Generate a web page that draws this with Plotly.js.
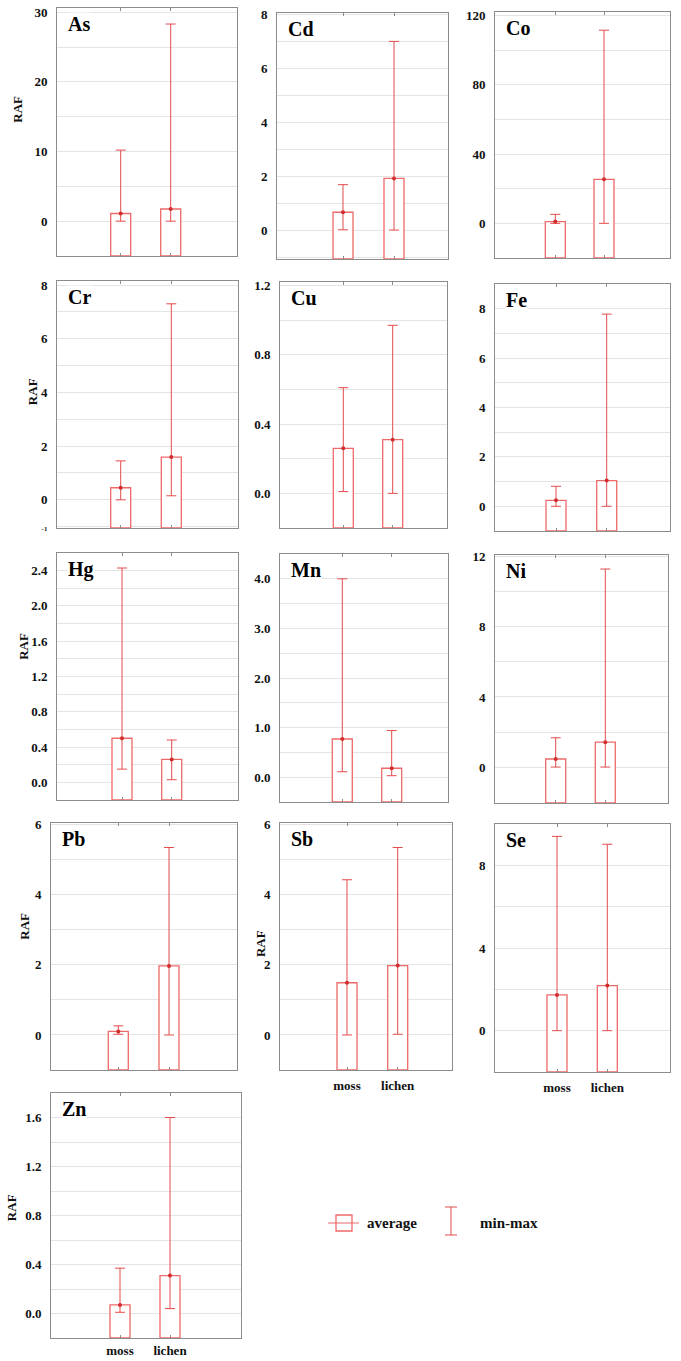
<!DOCTYPE html>
<html><head><meta charset="utf-8">
<script src="https://cdn.plot.ly/plotly-3.0.1.min.js"></script>
<style>body{margin:0;background:#fff}#chart{width:681px;height:1361px}</style>
</head><body><div id="chart"></div>
<script>
// ---------- data ----------
const elements   = ['As','Cd','Co','Cr','Cu','Fe','Hg','Mn','Ni','Pb','Sb','Se','Zn'];
const categories = ['moss','lichen'];
const avgMoss    = [1.10, 0.68, 1.0, 0.45, 0.26, 0.24, 0.50, 0.77, 0.46, 0.10, 1.49, 1.73, 0.07];
const minMoss    = [0.00, 0.03, 0.0, 0.00, 0.01, 0.00, 0.15, 0.11, 0.00, 0.02, 0.00, 0.00, 0.01];
const maxMoss    = [10.2, 1.70, 5.2, 1.45, 0.61, 0.81, 2.43, 4.00, 1.67, 0.26, 4.43, 9.40, 0.37];
const avgLichen  = [1.75, 1.93, 25.4, 1.59, 0.31, 1.04, 0.26, 0.18, 1.42, 1.97, 1.98, 2.18, 0.31];
const minLichen  = [0.00, 0.02, 0.0, 0.15, 0.00, 0.00, 0.03, 0.03, 0.00, 0.00, 0.02, 0.00, 0.04];
const maxLichen  = [28.3, 7.00, 111.5, 7.30, 0.97, 7.78, 0.48, 0.94, 11.3, 5.35, 5.35, 9.02, 1.60];
// y-axis scales
const yMin       = [-5, -1.05, -20, -1.05, -0.2, -1, -0.2, -0.5, -2.05, -1, -1, -2, -0.2];
const yMax       = [30.6, 8.05, 122, 8.15, 1.22, 9, 2.6, 4.5, 12.1, 6.05, 6.05, 10, 1.8];
const yTickStep  = [10, 2, 40, 2, 0.4, 2, 0.4, 1, 4, 2, 2, 4, 0.4];
const yGridStep  = [5, 1, 20, 1, 0.2, 1, 0.2, 0.5, 2, 1, 1, 2, 0.2];
const yTickFmt   = ['d','d','d','d','.1f','d','.1f','.1f','d','d','d','d','.1f'];
const yAxisTitle = 'RAF';
const legendLabels = ['average','min-max'];

// ---------- layout geometry (pixels) ----------
const W = 681, H = 1361;
// [left, right, top, bottom, mossCenter, lichenCenter]
const geom = [
  [57,237,8,256,120.7,170.7],
  [277,448,13,259,343,394],
  [495,670,12,258,555.3,604],
  [57,238,281,528,120.7,171.3],
  [280,447,282,528,343.3,392.7],
  [495,670,284,531,556,606.7],
  [57,238,553,800,122,171.7],
  [280,448,554,802,342.3,391.7],
  [495,668,555,803,555.7,605.3],
  [51,237,823,1070,118.3,169],
  [280,452,823,1070,347,397.7],
  [495,670,824,1072,557,607.3],
  [51,241,1093,1338,120,170]
];
const showCat   = [false,false,false,false,false,false,false,false,false,false,true,true,true];
const catStandoff = [3,3,3,3,3,3,3,3,3,3,3,3,0];
// RAF title: [xshift px from left edge, fraction from bottom] or null
const rafPos = [[-39,0.59],null,null,[-25,0.55],null,null,[-33,0.62],null,null,[-26,0.58],[-20,0.51],null,[-40,0.53]];

const barLine = 'rgb(238,105,105)';
const errCol  = 'rgb(228,75,75)';
const dotCol  = 'rgb(210,45,45)';
const axCol   = '#8c8c8c';
const grCol   = '#e4e4e4';
const serif   = '"Liberation Serif","Times New Roman",serif';

const data = [];
const layout = {
  width: W, height: H, margin: {l:0,r:0,t:0,b:0},
  paper_bgcolor: '#fff', plot_bgcolor: '#fff', showlegend: false,
  annotations: [], shapes: []
};

elements.forEach((el, i) => {
  const n = i + 1;
  const xa = 'x' + (n === 1 ? '' : n), ya = 'y' + (n === 1 ? '' : n);
  const xk = 'xaxis' + (n === 1 ? '' : n), yk = 'yaxis' + (n === 1 ? '' : n);
  const [L, R, T, B, pm, pl] = geom[i];
  const unit = pl - pm;
  const a = 0 - (pm - L) / unit;
  const b = a + (R - L) / unit;
  const avg = [avgMoss[i], avgLichen[i]];
  const mn = [minMoss[i], minLichen[i]];
  const mx = [maxMoss[i], maxLichen[i]];

  data.push({
    type: 'bar', x: categories, y: avg.map(v => v - yMin[i]), base: yMin[i],
    width: 20 / unit, xaxis: xa, yaxis: ya,
    marker: {color: '#ffffff', line: {color: barLine, width: 1.3}},
    hoverinfo: 'skip'
  });
  data.push({
    type: 'scatter', mode: 'markers', x: categories, y: avg, xaxis: xa, yaxis: ya,
    marker: {color: dotCol, size: 4},
    error_y: {type: 'data', symmetric: false,
      array: mx.map((v, k) => v - avg[k]), arrayminus: avg.map((v, k) => v - mn[k]),
      color: errCol, thickness: 1, width: 5}
  });

  layout[xk] = {
    domain: [L / W, R / W], anchor: ya, type: 'category', range: [a, b],
    showgrid: false, zeroline: false, showline: true, linecolor: axCol, linewidth: 1,
    mirror: 'ticks', ticks: 'inside', ticklen: 3, tickcolor: axCol,
    showticklabels: showCat[i], ticklabelstandoff: catStandoff[i],
    tickfont: {family: serif, size: 13, color: '#111', weight: 'bold'}
  };
  const tickvals = [], ticktext = [];
  const step = yTickStep[i];
  for (let k = Math.ceil(yMin[i] / step - 1e-9); k * step <= yMax[i] + 1e-9; k++) {
    const v = +(k * step).toFixed(6);
    tickvals.push(v);
    ticktext.push(yTickFmt[i] === '.1f' ? v.toFixed(1) : String(Math.round(v)));
  }
  if (el === 'Cr') { tickvals.unshift(-1); ticktext.unshift('<span style="font-size:7px">-1</span>'); }
  layout[yk] = {
    domain: [1 - B / H, 1 - T / H], anchor: xa, range: [yMin[i], yMax[i]],
    tickmode: 'array', tickvals: tickvals, ticktext: ticktext,
    showgrid: true, gridcolor: grCol, gridwidth: 1, zeroline: false,
    minor: {dtick: yGridStep[i], tick0: 0, showgrid: true, gridcolor: grCol, gridwidth: 1, ticks: ''},
    showline: true, linecolor: axCol, linewidth: 1, mirror: true, ticks: '',
    ticklabelstandoff: 6,
    tickfont: {family: serif, size: 13, color: '#111', weight: 'bold'}
  };

  layout.annotations.push({
    xref: xa + ' domain', yref: ya + ' domain', x: 0, y: 1,
    xanchor: 'left', yanchor: 'middle', xshift: 10, yshift: -16,
    text: el, showarrow: false, bgcolor: '#fff', borderpad: 0,
    font: {family: serif, size: 20, color: '#000', weight: 'bold'}
  });
  if (rafPos[i]) {
    layout.annotations.push({
      xref: xa + ' domain', yref: ya + ' domain', x: 0, y: rafPos[i][1],
      xanchor: 'center', yanchor: 'middle', xshift: rafPos[i][0],
      text: yAxisTitle, textangle: -90, showarrow: false,
      font: {family: serif, size: 13, color: '#111', weight: 'bold'}
    });
  }
});

// ---------- legend (drawn by hand) ----------
const px = x => x / W, py = y => 1 - y / H;
const LY = 1223;
layout.shapes.push(
  {type:'rect', xref:'paper', yref:'paper', x0:px(336), x1:px(352), y0:py(LY-8), y1:py(LY+8), line:{color:barLine,width:1.3}},
  {type:'line', xref:'paper', yref:'paper', x0:px(328), x1:px(359), y0:py(LY), y1:py(LY), line:{color:barLine,width:1}},
  {type:'line', xref:'paper', yref:'paper', x0:px(451), x1:px(451), y0:py(LY-16), y1:py(LY+12), line:{color:errCol,width:1}},
  {type:'line', xref:'paper', yref:'paper', x0:px(445), x1:px(457), y0:py(LY-16), y1:py(LY-16), line:{color:errCol,width:1}},
  {type:'line', xref:'paper', yref:'paper', x0:px(445), x1:px(457), y0:py(LY+12), y1:py(LY+12), line:{color:errCol,width:1}}
);
layout.annotations.push(
  {xref:'paper', yref:'paper', x:px(365), y:py(LY), xanchor:'left', yanchor:'middle', showarrow:false,
   text: legendLabels[0], font:{family:serif, size:15, color:'#111', weight:'bold'}},
  {xref:'paper', yref:'paper', x:px(478), y:py(LY), xanchor:'left', yanchor:'middle', showarrow:false,
   text: legendLabels[1], font:{family:serif, size:15, color:'#111', weight:'bold'}}
);

Plotly.newPlot('chart', data, layout, {staticPlot: true});
</script>
</body></html>
